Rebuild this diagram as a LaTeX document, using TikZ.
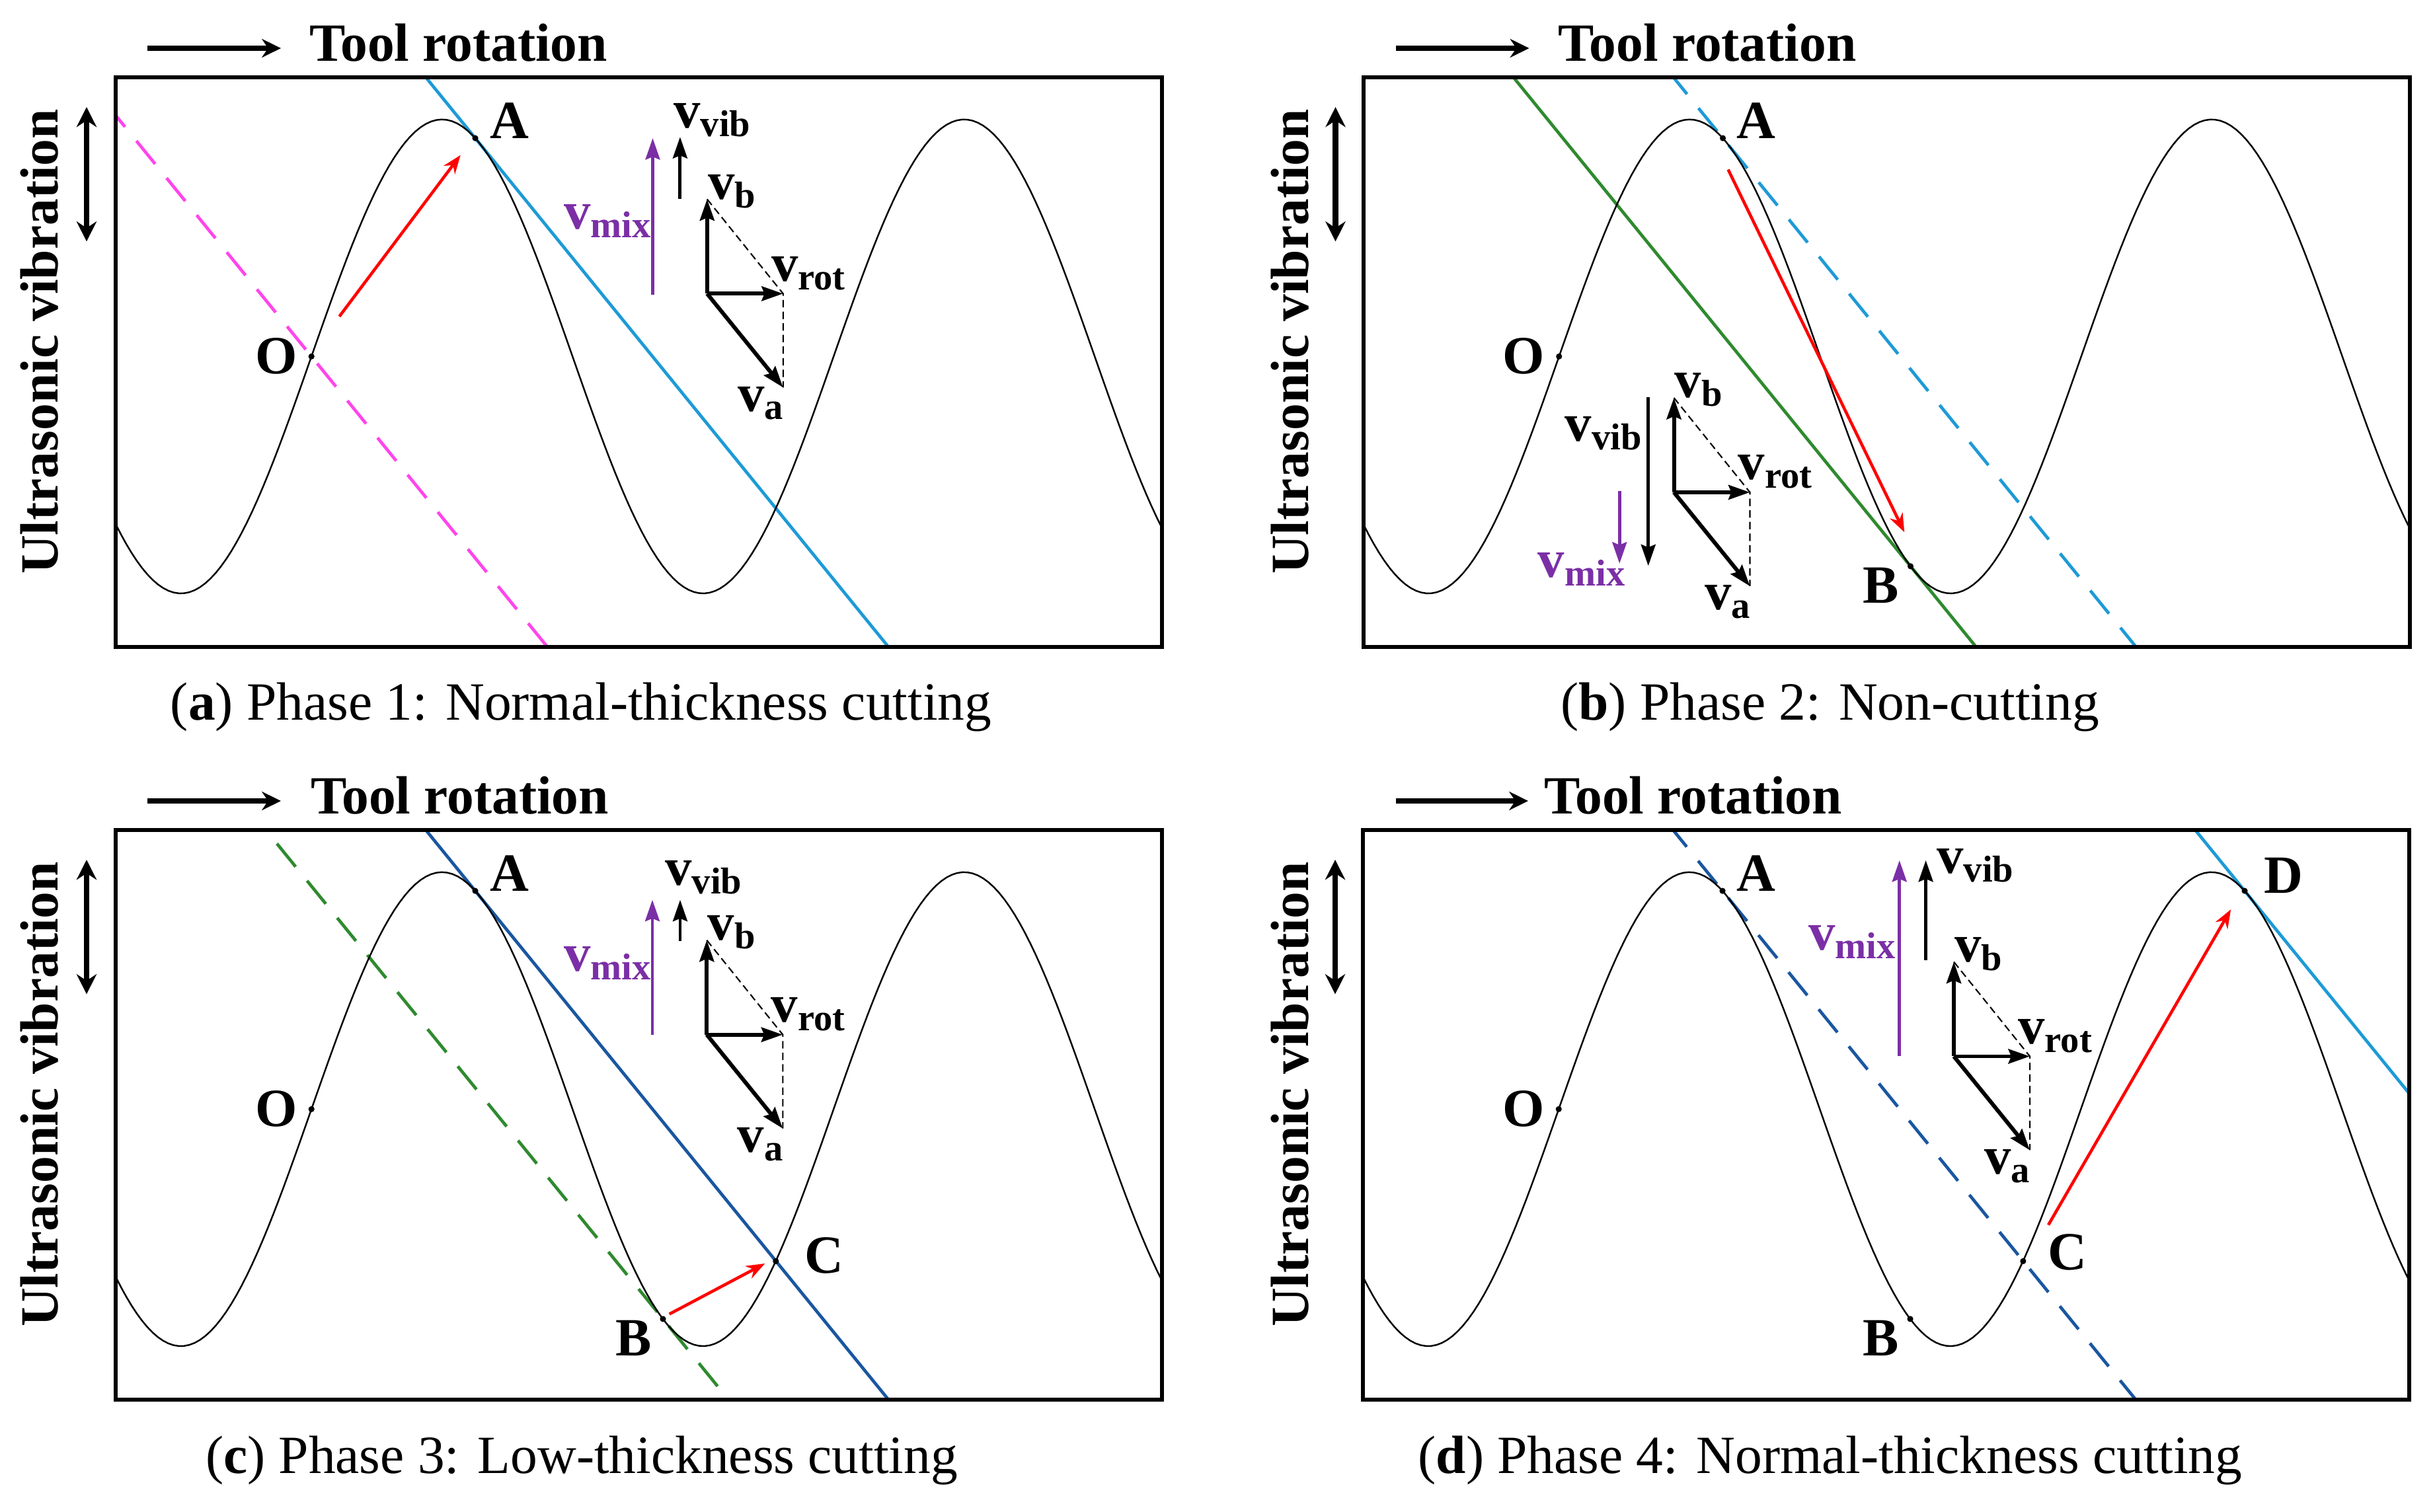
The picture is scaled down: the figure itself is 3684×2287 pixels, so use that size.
\documentclass[tikz,border=0pt]{standalone}
\usepackage{fontspec}
\setmainfont{Liberation Serif}
\usepackage{tikz}
\usetikzlibrary{positioning,arrows.meta,calc}
\definecolor{cutblue}{HTML}{1E9AD6}
\definecolor{cutnavy}{HTML}{1A56A0}
\definecolor{cutgreen}{HTML}{2F8A2F}
\definecolor{cutpink}{HTML}{FF45EC}
\definecolor{mixpurple}{HTML}{7B2FA6}
\definecolor{feedred}{HTML}{FF0000}

\begin{document}
\begin{tikzpicture}[
    x=0.005cm, y=0.005cm,
    >=Stealth,
    panelframe/.style={draw, line width=0.85pt},
    wave/.style={line width=0.35pt},
    toolpath/.style={line width=0.67pt},
    dashpath/.style={toolpath, dash pattern=on 6.4pt off 3.9pt},
    feed/.style={-{Stealth[length=4pt,width=3pt]}, line width=0.65pt, color=feedred},
    vec/.style={-{Stealth[length=4.6pt,width=3.1pt,inset=0.6pt]}, line width=0.85pt},
    vecthin/.style={-{Stealth[length=4.6pt,width=3.1pt,inset=0.6pt]}, line width=0.7pt},
    helper/.style={line width=0.3pt, dash pattern=on 1.6pt off 0.9pt},
    vlab/.style={inner sep=0pt, font=\fontsize{11.5}{13}\selectfont\bfseries},
    ptlab/.style={inner sep=0pt, font=\fontsize{11.6}{14}\selectfont\bfseries},
    headlab/.style={inner sep=0pt, font=\fontsize{11.6}{14}\selectfont\bfseries},
    ptdot/.style={circle, fill, inner sep=0pt, minimum size=0.046cm},
    caption/.style={inner sep=0pt, font=\fontsize{11.6}{14}\selectfont},
    rotarrow/.style={-{Stealth[length=4.1pt,width=4pt]}, line width=1.1pt},
    vibarrow/.style={{Stealth[length=4.3pt,width=4.3pt]}-{Stealth[length=4.3pt,width=4.3pt]}, line width=1.2pt},
]
\useasboundingbox (0,0) rectangle (3684,2287);

\begin{scope}[shift={(175,1308)}]
\coordinate (a-O) at (296.2,439.6);
\coordinate (a-A) at (544,769.9);
\begin{scope}
\clip (0,0) rectangle (1583,862);
\draw[dashpath, color=cutpink] ($(a-O)+(-812,1000)$) -- ($(a-O)+(812,-1000)$);
\draw[toolpath, color=cutblue] ($(a-A)+(-812,1000)$) -- ($(a-A)+(812,-1000)$);
\draw[wave] plot[domain=0:1583, samples=200] (\x, {439.6-358.6*cos(0.4557*(\x-98.7))});
\end{scope}
\draw[panelframe] (0,0) rectangle (1583,862);
\node[ptdot] (a-Odot) at (a-O) {};
\node[ptdot] (a-Adot) at (a-A) {};
\node[ptlab, left=0.07cm of a-Odot] (a-Olab) {O};
\node[ptlab, anchor=base west, xshift=0.105cm] (a-Alab) at (a-A) {A};
\coordinate (a-f0) at (338.4,500.1);
\coordinate (a-f1) at (521.7,744.3);
\draw[feed] (a-f0) -- (a-f1);
\coordinate (a-o) at (894.8,534.6);
\coordinate (a-vb) at (894.8,677.6);
\coordinate (a-vr) at (1009.8,534.6);
\coordinate (a-va) at (1009.8,392.6);
\draw[helper] (a-vb) -- (a-vr) -- (a-va);
\draw[vec] (a-o) -- (a-vb);
\draw[vec] (a-o) -- (a-vr);
\draw[vec] (a-o) -- (a-va);
\node[vlab, anchor=base west] (a-lb) at (a-vb) {v\textsubscript{b}};
\node[vlab, anchor=base west, xshift=-0.095cm, yshift=0.095cm] (a-lr) at (a-vr) {v\textsubscript{rot}};
\node[vlab, anchor=base west, xshift=-0.35cm, yshift=-0.18cm] (a-la) at (a-va) {v\textsubscript{a}};
\coordinate (a-m0) at (812.5,532.7);
\coordinate (a-m1) at (812.5,769.9);
\draw[vecthin, color=mixpurple] (a-m0) -- (a-m1);
\coordinate (a-w0) at (853.9,678.1);
\coordinate (a-w1) at (853.9,771.8);
\draw[vecthin] (a-w0) -- (a-w1);
\node[vlab, anchor=base west] (a-lw) at (843,785) {v\textsubscript{vib}};
\node[vlab, anchor=base west, text=mixpurple] (a-lm) at (677,632) {v\textsubscript{mix}};
\coordinate (a-rs) at (48,906);
\coordinate (a-re) at (250,906);
\draw[rotarrow] (a-rs) -- (a-re);
\node[headlab, anchor=base west] (a-rot) at (292,886) {Tool rotation};
\coordinate (a-u0) at (-44,613.6);
\coordinate (a-u1) at (-44,817);
\draw[vibarrow] (a-u0) -- (a-u1);
\node[headlab, rotate=90, anchor=base] (a-uv) at (-87.7,462) {Ultrasonic vibration};
\node[caption, anchor=base] (a-cap) at (704,-111) {(\textbf{a}) Phase 1: Normal-thickness cutting};
\end{scope}

\begin{scope}[shift={(2062.5,1308)}]
\coordinate (b-O) at (296.2,439.6);
\coordinate (b-A) at (544,769.9);
\coordinate (b-B) at (828,122.1);
\begin{scope}
\clip (0,0) rectangle (1583,862);
\draw[toolpath, color=cutgreen] ($(b-B)+(-812,1000)$) -- ($(b-B)+(812,-1000)$);
\draw[dashpath, color=cutblue] ($(b-A)+(-812,1000)$) -- ($(b-A)+(812,-1000)$);
\draw[wave] plot[domain=0:1583, samples=200] (\x, {439.6-358.6*cos(0.4557*(\x-98.7))});
\end{scope}
\draw[panelframe] (0,0) rectangle (1583,862);
\node[ptdot] (b-Odot) at (b-O) {};
\node[ptdot] (b-Adot) at (b-A) {};
\node[ptdot] (b-Bdot) at (b-B) {};
\node[ptlab, left=0.07cm of b-Odot] (b-Olab) {O};
\node[ptlab, anchor=base west, xshift=0.1cm] (b-Alab) at (b-A) {A};
\node[ptlab, anchor=base east, xshift=-0.08cm, yshift=-0.28cm] (b-Blab) at (b-B) {B};
\coordinate (b-f0) at (552,722.4);
\coordinate (b-f1) at (818.7,173.6);
\draw[feed] (b-f0) -- (b-f1);
\coordinate (b-o) at (470,234);
\coordinate (b-vb) at (470,377);
\coordinate (b-vr) at (585,234);
\coordinate (b-va) at (585,92);
\draw[helper] (b-vb) -- (b-vr) -- (b-va);
\draw[vec] (b-o) -- (b-vb);
\draw[vec] (b-o) -- (b-vr);
\draw[vec] (b-o) -- (b-va);
\node[vlab, anchor=base west] (b-lb) at (b-vb) {v\textsubscript{b}};
\node[vlab, anchor=base west, xshift=-0.095cm, yshift=0.095cm] (b-lr) at (b-vr) {v\textsubscript{rot}};
\node[vlab, anchor=base west, xshift=-0.35cm, yshift=-0.18cm] (b-la) at (b-va) {v\textsubscript{a}};
\coordinate (b-m0) at (387.7,235.6);
\coordinate (b-m1) at (387.7,126.2);
\draw[vecthin, color=mixpurple] (b-m0) -- (b-m1);
\coordinate (b-w0) at (431.2,377.7);
\coordinate (b-w1) at (431.2,122.6);
\draw[vecthin] (b-w0) -- (b-w1);
\node[vlab, anchor=base west] (b-lw) at (304,311) {v\textsubscript{vib}};
\node[vlab, anchor=base west, text=mixpurple] (b-lm) at (263,105) {v\textsubscript{mix}};
\coordinate (b-rs) at (49,906);
\coordinate (b-re) at (251,906);
\draw[rotarrow] (b-rs) -- (b-re);
\node[headlab, anchor=base west] (b-rot) at (294,886) {Tool rotation};
\coordinate (b-u0) at (-42,613.6);
\coordinate (b-u1) at (-42,817);
\draw[vibarrow] (b-u0) -- (b-u1);
\node[headlab, rotate=90, anchor=base] (b-uv) at (-83,462) {Ultrasonic vibration};
\node[caption, anchor=base] (b-cap) at (706,-111) {(\textbf{b}) Phase 2: Non-cutting};
\end{scope}

\begin{scope}[shift={(175,169)}]
\coordinate (c-O) at (296.2,439.6);
\coordinate (c-A) at (544,769.9);
\coordinate (c-B) at (828,122.1);
\coordinate (c-C) at (998.8,209.6);
\begin{scope}
\clip (0,0) rectangle (1583,862);
\draw[dashpath, color=cutgreen] ($(c-B)+(-812,1000)$) -- ($(c-B)+(812,-1000)$);
\draw[toolpath, color=cutnavy] ($(c-A)+(-812,1000)$) -- ($(c-A)+(812,-1000)$);
\draw[wave] plot[domain=0:1583, samples=200] (\x, {439.6-358.6*cos(0.4557*(\x-98.7))});
\end{scope}
\draw[panelframe] (0,0) rectangle (1583,862);
\node[ptdot] (c-Odot) at (c-O) {};
\node[ptdot] (c-Adot) at (c-A) {};
\node[ptdot] (c-Bdot) at (c-B) {};
\node[ptdot] (c-Cdot) at (c-C) {};
\node[ptlab, left=0.07cm of c-Odot] (c-Olab) {O};
\node[ptlab, anchor=base west, xshift=0.105cm] (c-Alab) at (c-A) {A};
\node[ptlab, anchor=base east, xshift=-0.08cm, yshift=-0.28cm] (c-Blab) at (c-B) {B};
\node[ptlab, anchor=base west, xshift=0.21cm, yshift=-0.09cm] (c-Clab) at (c-C) {C};
\coordinate (c-f0) at (837.7,129.5);
\coordinate (c-f1) at (982.2,206);
\draw[feed] (c-f0) -- (c-f1);
\coordinate (c-o) at (894.3,552.3);
\coordinate (c-vb) at (894.3,695.3);
\coordinate (c-vr) at (1009.3,552.3);
\coordinate (c-va) at (1009.3,410.3);
\draw[helper] (c-vb) -- (c-vr) -- (c-va);
\draw[vec] (c-o) -- (c-vb);
\draw[vec] (c-o) -- (c-vr);
\draw[vec] (c-o) -- (c-va);
\node[vlab, anchor=base west] (c-lb) at (c-vb) {v\textsubscript{b}};
\node[vlab, anchor=base west, xshift=-0.095cm, yshift=0.095cm] (c-lr) at (c-vr) {v\textsubscript{rot}};
\node[vlab, anchor=base west, xshift=-0.35cm, yshift=-0.18cm] (c-la) at (c-va) {v\textsubscript{a}};
\coordinate (c-m0) at (812,552.3);
\coordinate (c-m1) at (812,756.3);
\draw[vecthin, color=mixpurple] (c-m0) -- (c-m1);
\coordinate (c-w0) at (854,694.4);
\coordinate (c-w1) at (854,756.3);
\draw[vecthin] (c-w0) -- (c-w1);
\node[vlab, anchor=base west] (c-lw) at (830,778) {v\textsubscript{vib}};
\node[vlab, anchor=base west, text=mixpurple] (c-lm) at (677,648) {v\textsubscript{mix}};
\coordinate (c-rs) at (48,906);
\coordinate (c-re) at (250,906);
\draw[rotarrow] (c-rs) -- (c-re);
\node[headlab, anchor=base west] (c-rot) at (294,886) {Tool rotation};
\coordinate (c-u0) at (-44,613.6);
\coordinate (c-u1) at (-44,817);
\draw[vibarrow] (c-u0) -- (c-u1);
\node[headlab, rotate=90, anchor=base] (c-uv) at (-87.7,462) {Ultrasonic vibration};
\node[caption, anchor=base] (c-cap) at (705,-111) {(\textbf{c}) Phase 3: Low-thickness cutting};
\end{scope}

\begin{scope}[shift={(2062,169)}]
\coordinate (d-O) at (296.2,439.6);
\coordinate (d-A) at (544,769.9);
\coordinate (d-B) at (828,122.1);
\coordinate (d-C) at (998.8,209.6);
\coordinate (d-D) at (1334,769.9);
\begin{scope}
\clip (0,0) rectangle (1583,862);
\draw[dashpath, color=cutnavy] ($(d-A)+(-812,1000)$) -- ($(d-A)+(812,-1000)$);
\draw[toolpath, color=cutblue] ($(d-D)+(-812,1000)$) -- ($(d-D)+(812,-1000)$);
\draw[wave] plot[domain=0:1583, samples=200] (\x, {439.6-358.6*cos(0.4557*(\x-98.7))});
\end{scope}
\draw[panelframe] (0,0) rectangle (1583,862);
\node[ptdot] (d-Odot) at (d-O) {};
\node[ptdot] (d-Adot) at (d-A) {};
\node[ptdot] (d-Bdot) at (d-B) {};
\node[ptdot] (d-Cdot) at (d-C) {};
\node[ptdot] (d-Ddot) at (d-D) {};
\node[ptlab, left=0.07cm of d-Odot] (d-Olab) {O};
\node[ptlab, anchor=base west, xshift=0.1cm] (d-Alab) at (d-A) {A};
\node[ptlab, anchor=base east, xshift=-0.08cm, yshift=-0.28cm] (d-Blab) at (d-B) {B};
\node[ptlab, anchor=base west, xshift=0.18cm, yshift=-0.065cm] (d-Clab) at (d-C) {C};
\node[ptlab, anchor=base west, xshift=0.14cm, yshift=-0.018cm] (d-Dlab) at (d-D) {D};
\coordinate (d-f0) at (1037,264.4);
\coordinate (d-f1) at (1313.1,741.8);
\draw[feed] (d-f0) -- (d-f1);
\coordinate (d-o) at (894,519.5);
\coordinate (d-vb) at (894,662.5);
\coordinate (d-vr) at (1009,519.5);
\coordinate (d-va) at (1009,377.5);
\draw[helper] (d-vb) -- (d-vr) -- (d-va);
\draw[vec] (d-o) -- (d-vb);
\draw[vec] (d-o) -- (d-vr);
\draw[vec] (d-o) -- (d-va);
\node[vlab, anchor=base west] (d-lb) at (d-vb) {v\textsubscript{b}};
\node[vlab, anchor=base west, xshift=-0.095cm, yshift=0.095cm] (d-lr) at (d-vr) {v\textsubscript{rot}};
\node[vlab, anchor=base west, xshift=-0.35cm, yshift=-0.18cm] (d-la) at (d-va) {v\textsubscript{a}};
\coordinate (d-m0) at (811.7,519.5);
\coordinate (d-m1) at (811.7,816.1);
\draw[vecthin, color=mixpurple] (d-m0) -- (d-m1);
\coordinate (d-w0) at (851.6,665.2);
\coordinate (d-w1) at (851.6,816.1);
\draw[vecthin] (d-w0) -- (d-w1);
\node[vlab, anchor=base west] (d-lw) at (867,796) {v\textsubscript{vib}};
\node[vlab, anchor=base west, text=mixpurple] (d-lm) at (673,680) {v\textsubscript{mix}};
\coordinate (d-rs) at (50,906);
\coordinate (d-re) at (250,906);
\draw[rotarrow] (d-rs) -- (d-re);
\node[headlab, anchor=base west] (d-rot) at (273,886) {Tool rotation};
\coordinate (d-u0) at (-42,613.6);
\coordinate (d-u1) at (-42,817);
\draw[vibarrow] (d-u0) -- (d-u1);
\node[headlab, rotate=90, anchor=base] (d-uv) at (-83,462) {Ultrasonic vibration};
\node[caption, anchor=base] (d-cap) at (707,-111) {(\textbf{d}) Phase 4: Normal-thickness cutting};
\end{scope}
\end{tikzpicture}
\end{document}
